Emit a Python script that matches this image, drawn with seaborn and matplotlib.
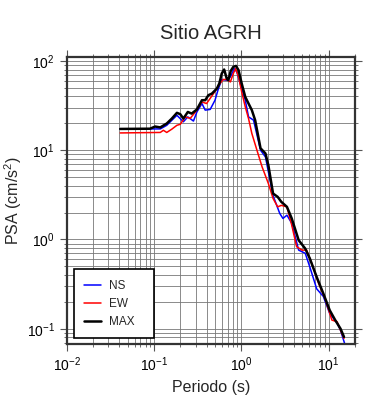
import pandas as pd
import matplotlib
matplotlib.use("Agg")
import matplotlib.pyplot as plt
import seaborn as sns
from matplotlib.ticker import LogLocator, NullFormatter

# periods (s) and PSA (cm/s^2)
periodo_ns = [0.041, 0.118, 0.14, 0.183, 0.217, 0.244, 0.283, 0.31, 0.354, 0.386,
              0.44, 0.50, 0.54, 0.597, 0.68, 0.75, 0.83, 0.89, 0.97, 1.11, 1.21,
              1.38, 1.66, 1.89, 2.31, 2.76, 3.0, 3.33, 3.78, 4.54, 5.4, 6.1, 7.3,
              8.7, 10.3, 12.5, 13.7, 15.5]
psa_ns = [17.3, 17.3, 19.0, 24.6, 20.8, 23.6, 21.2, 26.8, 33.3, 28.1,
          28.6, 36.3, 47.0, 61.9, 60.8, 66.3, 82.0, 75.0, 55.9, 36.3, 23.6,
          21.7, 10.0, 8.4, 3.1, 1.95, 1.72, 1.87, 1.52, 0.76, 0.70, 0.49, 0.28,
          0.23, 0.148, 0.116, 0.096, 0.065]

periodo_ew = [0.041, 0.118, 0.128, 0.14, 0.16, 0.183, 0.20, 0.228, 0.26, 0.298,
              0.354, 0.40, 0.48, 0.57, 0.62, 0.68, 0.75, 0.81, 0.86, 0.93, 1.01,
              1.11, 1.21, 1.32, 1.51, 1.73, 2.04, 2.31, 2.61, 2.87, 3.33, 3.78,
              4.3, 4.96, 5.6, 6.4, 7.7, 9.1, 10.9, 12.5, 13.7, 15.0]
psa_ew = [15.6, 15.8, 16.7, 15.8, 17.2, 19.0, 19.5, 23.6, 22.7, 26.8,
          34.7, 33.3, 43.0, 55.9, 61.9, 61.9, 58.2, 72.2, 82.0, 66.3, 45.0,
          30.6, 22.6, 15.4, 10.0, 6.5, 4.24, 2.88, 2.32, 2.41, 2.32, 1.45,
          0.83, 0.76, 0.76, 0.54, 0.32, 0.218, 0.125, 0.12, 0.096, 0.078]

periodo_max = [0.041, 0.090, 0.103, 0.118, 0.14, 0.16, 0.183, 0.20, 0.217, 0.244,
               0.27, 0.31, 0.354, 0.386, 0.42, 0.46, 0.526, 0.56, 0.597, 0.636,
               0.68, 0.71, 0.757, 0.81, 0.87, 0.93, 1.01, 1.11, 1.21, 1.32, 1.44,
               1.66, 1.89, 2.04, 2.31, 2.61, 2.87, 3.33, 3.78, 4.54, 5.4, 6.1,
               7.3, 8.7, 10.3, 11.9, 13.7, 15.0]
psa_max = [17.3, 17.4, 18.4, 18.0, 19.9, 22.6, 26.2, 25.3, 22.6, 26.8,
           25.7, 28.6, 36.3, 36.3, 41.3, 43.0, 49.1, 55.9, 72.2, 80.1,
           63.6, 60.8, 77.3, 85.7, 87.9, 78.7, 55.9, 39.5, 33.3, 28.1, 21.7,
           10.5, 9.2, 6.8, 3.27, 3.0, 2.64, 2.32, 1.72, 0.98, 0.79, 0.61,
           0.38, 0.248, 0.161, 0.125, 0.10, 0.081]

sns.set_style("ticks")
plt.rcParams['font.family'] = ['Liberation Sans', 'DejaVu Sans']
plt.rcParams['mathtext.default'] = 'regular'

fig = plt.figure(figsize=(3.9, 4.0), dpi=100)
ax = fig.add_axes([0.171, 0.14, 0.739, 0.717])

ns = pd.DataFrame({"T": periodo_ns, "PSA": psa_ns})
ew = pd.DataFrame({"T": periodo_ew, "PSA": psa_ew})
mx = pd.DataFrame({"T": periodo_max, "PSA": psa_max})

sns.lineplot(data=ns, x="T", y="PSA", color="#0000ff", lw=1.1, label="NS", ax=ax, sort=False)
sns.lineplot(data=ew, x="T", y="PSA", color="#ff0000", lw=1.1, label="EW", ax=ax, sort=False)
sns.lineplot(data=mx, x="T", y="PSA", color="black", lw=1.8, label="MAX", ax=ax, sort=False)

ax.set_xscale("log")
ax.set_yscale("log")
ax.set_xlim(0.01, 20)
ax.set_ylim(0.0675, 110)

ax.xaxis.set_minor_locator(LogLocator(base=10, subs=range(2, 10), numticks=20))
ax.yaxis.set_minor_locator(LogLocator(base=10, subs=range(2, 10), numticks=20))
ax.xaxis.set_minor_formatter(NullFormatter())
ax.yaxis.set_minor_formatter(NullFormatter())

ax.grid(True, which="both", color="#777777", lw=0.6)
ax.set_axisbelow(True)
ax.tick_params(which="both", direction="out", top=True, right=True, colors="#555555",
               labelcolor="black", labelsize=10)
ax.tick_params(which="major", length=5, width=0.8)
ax.tick_params(which="minor", length=2.5, width=0.6)
for s in ax.spines.values():
    s.set_linewidth(1.6)
    s.set_color("#333333")

ax.set_title("Sitio AGRH", fontsize=14.5, pad=13)
ax.set_xlabel("Periodo (s)", fontsize=11.5)
ax.set_ylabel("PSA (cm/s$^2$)", fontsize=11.5, labelpad=2)

leg = ax.legend(loc="lower left", fontsize=8.5, frameon=True, fancybox=False,
                handlelength=1.4, handletextpad=0.7, borderpad=0.9, labelspacing=0.5,
                bbox_to_anchor=(0.024, 0.02, 0.278, 0.2), mode="expand",
                borderaxespad=0)
leg.get_frame().set_edgecolor("black")
leg.get_frame().set_linewidth(1.2)
leg.get_frame().set_alpha(1)

fig.savefig("out.png", dpi=100)
